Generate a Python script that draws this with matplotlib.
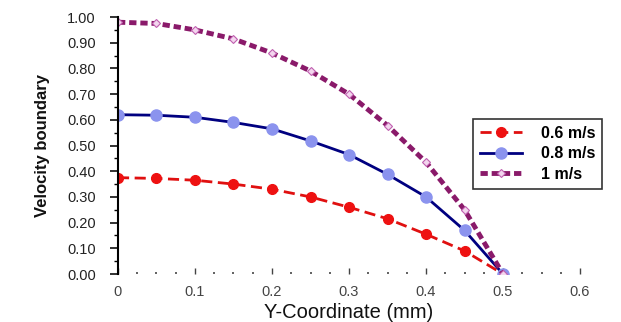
import matplotlib
matplotlib.use("Agg")
import matplotlib.pyplot as plt
import matplotlib.ticker as mticker

# ---------------------------------------------------------
# Data
# ---------------------------------------------------------
y_coord = [0.0, 0.05, 0.1, 0.15, 0.2, 0.25, 0.3, 0.35, 0.4, 0.45, 0.5]
vel_06 = [0.375, 0.372, 0.365, 0.350, 0.330, 0.300, 0.260, 0.215, 0.155, 0.090, 0.0]
vel_08 = [0.620, 0.618, 0.610, 0.590, 0.565, 0.518, 0.465, 0.388, 0.300, 0.170, 0.0]
vel_10 = [0.980, 0.975, 0.950, 0.915, 0.860, 0.790, 0.700, 0.578, 0.435, 0.250, 0.0]
labels = ["0.6 m/s", "0.8 m/s", "1 m/s"]

plt.rcParams["font.family"] = ["Liberation Sans", "DejaVu Sans"]

fig = plt.figure(figsize=(6.21, 3.22), dpi=100, facecolor="white")
ax = fig.add_axes([0.19, 0.149, 0.744, 0.798])

ax.plot(y_coord, vel_06, color="#e01010", linestyle=(0, (4, 2)), linewidth=2,
        marker="o", markersize=7, markerfacecolor="#ee1111", markeredgecolor="#ee1111",
        label=labels[0])
ax.plot(y_coord, vel_08, color="#000080", linestyle="-", linewidth=2,
        marker="o", markersize=8, markerfacecolor="#8b93ee", markeredgecolor="#8b93ee",
        label=labels[1])
ax.plot(y_coord, vel_10, color="#8a1a6a", linestyle=(0, (1.5, 0.8)), linewidth=3.5,
        marker="D", markersize=4, markerfacecolor="#f3d6ee", markeredgecolor="#c060b0",
        markeredgewidth=0.8, label=labels[2])

ax.set_xlim(0, 0.6)
ax.set_ylim(0, 1.0)

ax.xaxis.set_major_locator(mticker.MultipleLocator(0.1))
ax.xaxis.set_minor_locator(mticker.MultipleLocator(0.025))
ax.yaxis.set_major_locator(mticker.MultipleLocator(0.1))
ax.yaxis.set_minor_locator(mticker.MultipleLocator(0.05))
ax.xaxis.set_major_formatter(mticker.FuncFormatter(lambda v, _: "0" if v == 0 else f"{v:.1f}"))
ax.yaxis.set_major_formatter(mticker.FormatStrFormatter("%.2f"))

for side in ["top", "right", "bottom"]:
    ax.spines[side].set_visible(False)
ax.spines["left"].set_linewidth(1.5)

ax.tick_params(axis="y", which="major", direction="out", length=6, width=1.3,
               labelsize=10.5, colors="#222222", pad=10)
ax.tick_params(axis="y", which="minor", direction="out", length=3, width=1.0)
ax.tick_params(axis="x", which="major", direction="in", length=4, width=1.0,
               labelsize=10.5, colors="#444444", pad=8)
ax.tick_params(axis="x", which="minor", direction="in", length=1.5, width=1.3, colors="#555555")

ax.set_xlabel("Y-Coordinate (mm)", fontsize=14.5, color="#111111", labelpad=3)
ax.set_ylabel("Velocity boundary", fontsize=12, fontweight="bold", color="#111111",
              labelpad=12)

leg = ax.legend(loc="upper left", bbox_to_anchor=(0.768, 0.605), frameon=True,
                fancybox=False, edgecolor="black", handlelength=2.6, handletextpad=1.2,
                borderpad=0.45, labelspacing=0.35, borderaxespad=0,
                prop={"weight": "bold", "size": 11.5})
leg.get_frame().set_linewidth(1.2)

fig.savefig("out.png", dpi=100, facecolor="white")
